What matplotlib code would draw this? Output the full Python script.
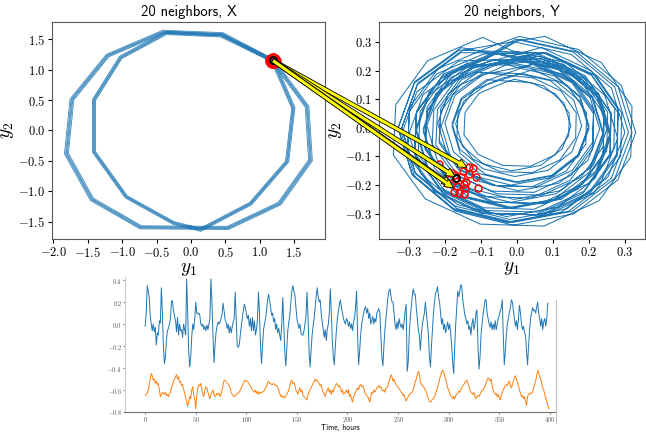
import numpy as np
import matplotlib
matplotlib.use('Agg')
import matplotlib.pyplot as plt
from matplotlib.patches import ConnectionPatch
from matplotlib.lines import Line2D
from matplotlib.ticker import MultipleLocator

# --- Datos ---

# X: ciclo de 24 h (vuelta exterior + vuelta interior), en coordenadas (y1, y2)
x_y1 = [1.19, 1.69, 1.74, 1.29, 0.54, -0.73, -1.44, -1.81, -1.73, -1.21, -0.40, 0.46,
        1.19, 1.49, 1.40, 0.87, 0.14, -0.25, -0.94, -1.41, -1.41, -1.02, -0.36, 0.44, 1.19]
x_y2 = [1.15, 0.39, -0.49, -1.20, -1.60, -1.59, -1.13, -0.38, 0.51, 1.23, 1.62, 1.58,
        1.15, 0.37, -0.51, -1.20, -1.63, -1.52, -1.09, -0.35, 0.50, 1.20, 1.60, 1.56, 1.15]
# escala de cada repeticion del ciclo (ancho del haz)
x_escalas = [0.984, 0.993, 1.0, 1.007, 1.016]

# vecinos en X (todos casi en el mismo punto)
x_vec_y1 = [1.19, 1.20, 1.18, 1.21, 1.19, 1.17, 1.20, 1.22, 1.18, 1.19,
            1.21, 1.20, 1.17, 1.19, 1.18, 1.20, 1.21, 1.19, 1.18, 1.20]
x_vec_y2 = [1.15, 1.14, 1.16, 1.15, 1.13, 1.15, 1.17, 1.14, 1.13, 1.17,
            1.16, 1.12, 1.14, 1.15, 1.16, 1.15, 1.13, 1.16, 1.15, 1.14]
x_punto = (1.19, 1.15)

# Y: dos formas de vuelta (poligonos de 12 lados, girados) y tamano/centro de cada vuelta
forma_a_x = [0.02, 0.52, 0.88, 1.00, 0.85, 0.48, -0.03, -0.52, -0.88, -1.00, -0.86, -0.47]
forma_a_y = [1.00, 0.86, 0.48, -0.02, -0.52, -0.88, -1.00, -0.85, -0.47, 0.03, 0.52, 0.88]
forma_b_x = [0.26, 0.72, 0.97, 0.96, 0.70, 0.25, -0.27, -0.72, -0.98, -0.96, -0.70, -0.25]
forma_b_y = [0.97, 0.70, 0.25, -0.27, -0.72, -0.98, -0.96, -0.70, -0.25, 0.27, 0.72, 0.96]
y_forma = [0, 1, 0, 1, 1, 0, 1, 0, 0, 1, 0, 1, 1, 0, 1, 0, 0, 1, 0, 1, 1, 0,
           1, 0, 1, 0, 0, 1, 0, 1, 0, 1, 0]
y_radios = [0.25, 0.29, 0.32, 0.27, 0.22, 0.26, 0.30, 0.33, 0.28, 0.24, 0.20, 0.23,
            0.27, 0.31, 0.29, 0.25, 0.21, 0.17, 0.19, 0.24, 0.28, 0.32, 0.34, 0.30,
            0.26, 0.22, 0.18, 0.15, 0.16, 0.21, 0.26, 0.29, 0.27]
y_cx = [-0.01, 0.0, -0.01, 0.01, 0.0, -0.02, -0.01, 0.0, -0.02, 0.01, 0.0, -0.01,
        -0.02, -0.01, 0.01, 0.0, -0.01, 0.0, 0.01, -0.02, -0.01, 0.0, -0.01, -0.02,
        0.0, 0.01, 0.0, 0.0, -0.01, -0.01, 0.0, -0.02, -0.01]
y_cy = [-0.01, -0.02, -0.01, 0.0, 0.01, -0.02, -0.01, -0.01, -0.03, 0.0, 0.01, 0.0,
        -0.02, -0.01, -0.02, 0.0, 0.01, 0.01, 0.0, -0.01, -0.02, -0.01, -0.01, -0.03,
        -0.01, 0.0, 0.01, 0.013, 0.01, 0.0, -0.02, -0.02, -0.01]

# vecinos en Y
y_vec_y1 = [-0.216, -0.181, -0.122, -0.132, -0.113, -0.109, -0.134, -0.141, -0.146, -0.143,
            -0.176, -0.162, -0.148, -0.181, -0.194, -0.165, -0.156, -0.185, -0.171, -0.150]
y_vec_y2 = [-0.126, -0.156, -0.141, -0.135, -0.170, -0.209, -0.161, -0.188, -0.196, -0.211,
            -0.223, -0.228, -0.231, -0.193, -0.193, -0.203, -0.170, -0.179, -0.164, -0.150]
y_punto = (-0.169, -0.176)

# destinos de las flechas
flechas_y1 = [-0.139, -0.172, -0.183, -0.176]
flechas_y2 = [-0.138, -0.170, -0.200, -0.210]

# series temporales (una por hora)
serie_azul = [
    -0.02, 0.10, 0.35, 0.30, 0.24, 0.08, 0.00, -0.06, 0.00, -0.07,
    -0.03, -0.19, -0.08, -0.10, 0.03, 0.01, 0.33, 0.10, -0.20, -0.36,
    -0.30, -0.15, -0.06, -0.04, 0.00, 0.05, 0.21, 0.21, 0.12, 0.07,
    0.03, -0.07, 0.06, -0.10, 0.00, -0.06, -0.05, -0.12, 0.00, -0.05,
    -0.10, 0.41, 0.10, -0.25, -0.39, -0.30, -0.12, 0.00, -0.05, 0.05,
    0.20, 0.10, 0.09, 0.10, 0.08, 0.00, -0.02, 0.00, -0.05, -0.02,
    -0.06, -0.01, -0.05, 0.00, 0.05, 0.41, 0.20, -0.10, -0.35, -0.20,
    -0.08, -0.02, 0.02, 0.00, 0.02, 0.05, 0.09, 0.19, 0.12, 0.04,
    0.02, -0.04, 0.00, -0.08, -0.02, -0.08, -0.03, 0.02, 0.05, 0.29,
    0.05, -0.20, -0.21, -0.19, -0.10, -0.02, 0.05, 0.12, 0.18, 0.15,
    0.10, 0.05, 0.08, -0.02, 0.05, -0.06, 0.06, -0.06, 0.03, -0.10,
    -0.05, 0.05, 0.29, 0.10, -0.20, -0.36, -0.20, -0.05, 0.00, 0.05,
    0.12, 0.22, 0.27, 0.22, 0.15, 0.08, 0.10, 0.02, 0.05, -0.05,
    0.00, -0.08, -0.04, -0.10, -0.15, 0.00, 0.24, 0.00, -0.25, -0.38,
    -0.22, -0.06, 0.02, 0.08, 0.20, 0.30, 0.35, 0.30, 0.26, 0.15,
    0.05, 0.00, -0.04, 0.00, -0.08, -0.10, -0.10, -0.06, 0.00, 0.08,
    0.29, 0.05, -0.25, -0.39, -0.25, -0.10, -0.02, 0.05, 0.15, 0.25,
    0.33, 0.25, 0.20, 0.22, 0.10, 0.02, -0.05, -0.12, -0.05, -0.15,
    -0.05, 0.00, 0.10, 0.32, 0.10, -0.15, -0.30, -0.37, -0.20, -0.06,
    0.05, 0.12, 0.18, 0.22, 0.15, 0.10, 0.05, 0.02, 0.00, 0.05,
    0.03, -0.02, 0.02, -0.04, 0.00, -0.06, 0.02, 0.06, 0.15, 0.30,
    -0.10, -0.37, -0.25, -0.10, 0.00, 0.05, 0.10, 0.14, 0.16, 0.10,
    0.14, 0.05, 0.10, 0.00, 0.03, 0.07, 0.00, 0.05, 0.02, 0.10,
    0.12, 0.14, 0.10, -0.10, -0.30, -0.38, -0.20, -0.05, 0.05, 0.15,
    0.25, 0.30, 0.32, 0.25, 0.20, 0.20, 0.10, 0.00, -0.05, 0.02,
    -0.04, 0.05, 0.00, -0.03, 0.00, -0.05, 0.02, 0.12, 0.18, -0.43,
    -0.35, -0.10, 0.05, 0.15, 0.25, 0.32, 0.27, 0.27, 0.15, 0.05,
    -0.05, -0.10, -0.24, -0.10, 0.00, 0.05, 0.10, 0.20, 0.10, 0.00,
    -0.10, -0.30, -0.39, -0.20, -0.05, 0.10, 0.20, 0.28, 0.30, 0.34,
    0.25, 0.20, 0.10, 0.00, 0.05, -0.05, 0.00, -0.08, -0.03, 0.02,
    -0.05, 0.00, -0.08, -0.20, -0.35, -0.45, -0.20, 0.00, 0.15, 0.30,
    0.25, 0.30, 0.36, 0.34, 0.22, 0.15, 0.08, 0.05, 0.00, 0.03,
    -0.05, -0.02, -0.10, 0.00, 0.05, -0.05, 0.00, 0.10, 0.13, -0.20,
    -0.41, -0.30, -0.10, 0.00, 0.08, 0.15, 0.22, 0.22, 0.10, 0.05,
    0.00, -0.03, 0.02, -0.05, 0.00, -0.05, 0.03, -0.05, 0.00, 0.05,
    0.08, 0.12, 0.15, 0.22, -0.10, -0.37, -0.25, -0.10, 0.00, 0.05,
    0.10, 0.15, 0.22, 0.20, 0.12, 0.05, -0.02, 0.03, -0.05, 0.05,
    0.17, 0.10, 0.00, -0.05, -0.02, -0.08, -0.10, -0.25, -0.37, -0.20,
    -0.05, 0.05, 0.10, 0.15, 0.12, 0.13, 0.10, 0.15, 0.20, 0.10,
    0.05, -0.02, 0.05, -0.05, 0.02, 0.05, -0.02, 0.05, 0.19]

serie_naranja = [
    -0.65, -0.64, -0.63, -0.60, -0.55, -0.50, -0.45, -0.47, -0.51, -0.50,
    -0.54, -0.52, -0.55, -0.54, -0.60, -0.66, -0.64, -0.62, -0.63, -0.64,
    -0.62, -0.65, -0.64, -0.66, -0.63, -0.62, -0.58, -0.55, -0.52, -0.50,
    -0.48, -0.46, -0.50, -0.48, -0.53, -0.52, -0.56, -0.55, -0.60, -0.62,
    -0.68, -0.70, -0.75, -0.70, -0.66, -0.68, -0.60, -0.57, -0.64, -0.68,
    -0.77, -0.66, -0.58, -0.55, -0.56, -0.54, -0.60, -0.64, -0.66, -0.60,
    -0.57, -0.58, -0.62, -0.65, -0.68, -0.64, -0.62, -0.60, -0.64, -0.66,
    -0.65, -0.63, -0.64, -0.63, -0.66, -0.64, -0.60, -0.55, -0.51, -0.52,
    -0.52, -0.54, -0.55, -0.56, -0.58, -0.62, -0.64, -0.65, -0.66, -0.65,
    -0.64, -0.63, -0.63, -0.62, -0.60, -0.58, -0.56, -0.54, -0.52, -0.51,
    -0.52, -0.52, -0.53, -0.55, -0.56, -0.58, -0.60, -0.61, -0.62, -0.60,
    -0.63, -0.61, -0.64, -0.62, -0.63, -0.62, -0.62, -0.61, -0.60, -0.58,
    -0.57, -0.53, -0.52, -0.54, -0.54, -0.55, -0.55, -0.54, -0.55, -0.56,
    -0.56, -0.58, -0.60, -0.63, -0.66, -0.65, -0.67, -0.66, -0.67, -0.65,
    -0.64, -0.62, -0.60, -0.56, -0.52, -0.51, -0.54, -0.53, -0.56, -0.60,
    -0.62, -0.64, -0.60, -0.58, -0.62, -0.60, -0.65, -0.66, -0.67, -0.68,
    -0.69, -0.64, -0.62, -0.60, -0.58, -0.56, -0.54, -0.52, -0.50, -0.52,
    -0.51, -0.53, -0.54, -0.56, -0.55, -0.60, -0.62, -0.64, -0.66, -0.62,
    -0.60, -0.58, -0.62, -0.60, -0.64, -0.60, -0.62, -0.58, -0.56, -0.54,
    -0.55, -0.57, -0.56, -0.58, -0.62, -0.60, -0.64, -0.63, -0.62, -0.60,
    -0.63, -0.60, -0.66, -0.64, -0.68, -0.71, -0.66, -0.64, -0.62, -0.60,
    -0.58, -0.60, -0.56, -0.55, -0.57, -0.56, -0.58, -0.62, -0.64, -0.65,
    -0.66, -0.68, -0.71, -0.66, -0.62, -0.63, -0.60, -0.62, -0.60, -0.58,
    -0.57, -0.56, -0.58, -0.57, -0.60, -0.61, -0.60, -0.62, -0.58, -0.58,
    -0.56, -0.52, -0.50, -0.46, -0.48, -0.52, -0.50, -0.53, -0.55, -0.56,
    -0.58, -0.59, -0.60, -0.62, -0.63, -0.65, -0.64, -0.68, -0.70, -0.68,
    -0.66, -0.64, -0.64, -0.62, -0.62, -0.60, -0.56, -0.52, -0.50, -0.46,
    -0.43, -0.45, -0.52, -0.55, -0.56, -0.57, -0.58, -0.60, -0.62, -0.66,
    -0.68, -0.70, -0.71, -0.70, -0.68, -0.68, -0.66, -0.64, -0.60, -0.58,
    -0.54, -0.50, -0.47, -0.44, -0.42, -0.43, -0.47, -0.50, -0.54, -0.58,
    -0.60, -0.63, -0.65, -0.66, -0.68, -0.66, -0.68, -0.65, -0.64, -0.63,
    -0.61, -0.62, -0.60, -0.58, -0.56, -0.55, -0.53, -0.52, -0.51, -0.54,
    -0.56, -0.60, -0.62, -0.63, -0.64, -0.62, -0.66, -0.68, -0.66, -0.65,
    -0.66, -0.64, -0.62, -0.60, -0.60, -0.58, -0.56, -0.54, -0.51, -0.49,
    -0.50, -0.52, -0.50, -0.56, -0.60, -0.62, -0.64, -0.63, -0.66, -0.64,
    -0.67, -0.69, -0.65, -0.62, -0.60, -0.58, -0.56, -0.55, -0.56, -0.53,
    -0.52, -0.56, -0.58, -0.55, -0.52, -0.49, -0.47, -0.50, -0.53, -0.56,
    -0.60, -0.63, -0.66, -0.65, -0.68, -0.66, -0.70, -0.74, -0.66, -0.64,
    -0.63, -0.64, -0.62, -0.62, -0.58, -0.55, -0.52, -0.47, -0.42, -0.44,
    -0.48, -0.50, -0.54, -0.58, -0.60, -0.64, -0.68, -0.70, -0.74, -0.77]

# --- Estilo ---
plt.rcParams['font.family'] = ['cmr10', 'DejaVu Serif']
plt.rcParams['mathtext.fontset'] = 'cm'
plt.rcParams['axes.formatter.use_mathtext'] = True
plt.rcParams['axes.edgecolor'] = '0.35'

azul = '#1f77b4'
naranja = '#ff7f0e'

fig = plt.figure(figsize=(6.46, 4.32), dpi=100)
ax1 = fig.add_axes([0.0805, 0.447, 0.4225, 0.502])
ax2 = fig.add_axes([0.5867, 0.447, 0.4118, 0.502])
ax3 = fig.add_axes([0.1935, 0.0463, 0.667, 0.313])

# --- Panel X ---
for esc in x_escalas:
    ax1.plot(np.array(x_y1) * esc, np.array(x_y2) * esc, color=azul, lw=0.6, alpha=0.85)
ax1.plot(x_vec_y1, x_vec_y2, 'o', mfc='none', mec='red', ms=7, mew=2, zorder=5)
ax1.plot([x_punto[0]], [x_punto[1]], 'o', mfc='none', mec='black', ms=5, mew=1.3, zorder=6)
ax1.set_xlim(-2.02, 1.95)
ax1.set_ylim(-1.78, 1.78)
ax1.xaxis.set_major_locator(MultipleLocator(0.5))
ax1.yaxis.set_major_locator(MultipleLocator(0.5))
ax1.set_title('20 neighbors, X', family='cmss10', fontsize=10.5, pad=4)
ax1.set_xlabel('$y_1$', fontsize=14, labelpad=0)
ax1.set_ylabel('$y_2$', fontsize=14, labelpad=1)
ax1.tick_params(labelsize=9, pad=2, length=3)

# --- Panel Y ---
formas = [(forma_a_x, forma_a_y), (forma_b_x, forma_b_y)]
y1_todo = []
y2_todo = []
for f, r, cx, cy in zip(y_forma, y_radios, y_cx, y_cy):
    fx, fy = formas[f]
    y1_todo.extend(cx + r * np.array(fx))
    y2_todo.extend(cy + r * np.array(fy))
ax2.plot(y1_todo, y2_todo, color=azul, lw=0.75)
ax2.plot(y_vec_y1, y_vec_y2, 'o', mfc='none', mec='red', ms=5, mew=1.1, zorder=5)
ax2.plot([y_punto[0]], [y_punto[1]], 'o', mfc='none', mec='black', ms=5, mew=1.3, zorder=6)
ax2.set_xlim(-0.383, 0.356)
ax2.set_ylim(-0.388, 0.37)
ax2.xaxis.set_major_locator(MultipleLocator(0.1))
ax2.yaxis.set_major_locator(MultipleLocator(0.1))
ax2.set_title('20 neighbors, Y', family='cmss10', fontsize=10.5, pad=4)
ax2.set_xlabel('$y_1$', fontsize=14, labelpad=0)
ax2.set_ylabel('$y_2$', fontsize=14, labelpad=1)
ax2.tick_params(labelsize=9, pad=2, length=3)

# flechas de X a Y
for a, b in zip(flechas_y1, flechas_y2):
    con = ConnectionPatch(xyA=x_punto, coordsA=ax1.transData,
                          xyB=(a, b), coordsB=ax2.transData,
                          arrowstyle='simple,head_width=0.8,head_length=0.8,tail_width=0.35',
                          mutation_scale=8, fc='yellow', ec='black', lw=0.6,
                          shrinkA=0, shrinkB=0, zorder=10)
    fig.add_artist(con)

# --- Serie temporal ---
horas = np.arange(len(serie_azul))
horas_n = np.arange(len(serie_naranja))
ax3.plot(horas, serie_azul, color=azul, lw=0.7)
ax3.plot(horas_n, serie_naranja, color=naranja, lw=0.7)
ax3.set_xlim(-19.95, 406)
ax3.set_ylim(-0.8, 0.43)
ax3.set_xticks(np.arange(0, 401, 50))
ax3.set_yticks([-0.8, -0.6, -0.4, -0.2, 0.0, 0.2, 0.4])
ax3.spines['top'].set_visible(False)
ax3.spines['right'].set_visible(False)
ax3.spines['left'].set_color('0.8')
ax3.spines['bottom'].set_color('0.45')
ax3.tick_params(labelsize=4.5, length=1.5, width=0.5, colors='0.3', pad=0.5)
ax3.set_xlabel('Time, hours', family='cmss10', fontsize=5.5, labelpad=0, va='center')
ax3.xaxis.set_label_coords(0.5, -0.118)

fig.add_artist(Line2D([556 / 646, 556 / 646], [1 - 300 / 432, 1 - 423 / 432],
                      color='0.75', lw=0.8))

fig.savefig('out.png', dpi=100)
